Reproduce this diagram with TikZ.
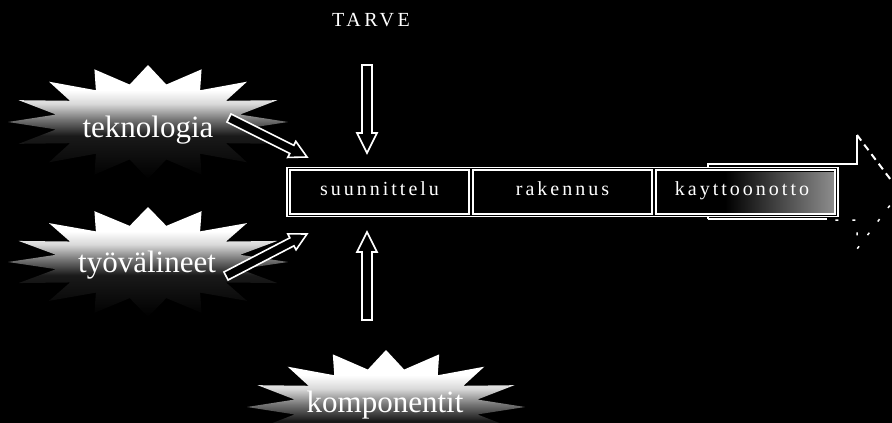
\documentclass[tikz,border=0pt]{standalone}
\usepackage{fontspec}
\setmainfont{Liberation Serif}
\newfontfamily\cellfont[LetterSpace=15]{Liberation Serif}
\newfontfamily\tarvefont[LetterSpace=18]{Liberation Serif}
\usetikzlibrary{calc}
\pgfdeclareverticalshading{burstshade}{100bp}{color(0bp)=(black); color(25bp)=(black); color(44bp)=(black!90); color(51bp)=(black!55); color(58bp)=(black!15); color(64bp)=(white); color(100bp)=(white)}
\newcommand\burstshape[4]{%
  \shade[shading=burstshade] plot[samples=33, domain=0:360, variable=\t]
    ({#1+#3*(1-0.33*mod(round(\t/11.25),2))*cos(\t)},
     {#2-#4*(1-0.33*mod(round(\t/11.25),2))*sin(\t)}) -- cycle;}
\newcommand\blockarrow[5]{%
  \path ($(#2)!#5!(#1)$) coordinate (hb);
  \draw[hollow] ($(#1)!#3!90:(#2)$) -- ($(hb)!#3!90:(#2)$) -- ($(hb)!#4!90:(#2)$)
    -- (#2) -- ($(hb)!#4!-90:(#2)$) -- ($(hb)!#3!-90:(#2)$) -- ($(#1)!#3!-90:(#2)$) -- cycle;}
\tikzset{
  hollow/.style={draw=white, fill=black, line width=1.6pt, line join=miter},
  frame/.style={draw=white, fill=black, line width=1.8pt, minimum width=551pt, minimum height=49pt, inner sep=0pt},
  cell/.style={draw=white, line width=1.3pt, minimum width=179pt, minimum height=44pt, inner sep=0pt},
  celltext/.style={text=white, font=\cellfont\fontsize{20}{22}\selectfont, anchor=base, inner sep=0pt},
  burstlabel/.style={text=white, font=\fontsize{31}{34}\selectfont, anchor=base, inner sep=0pt},
  bigarrow/.style={draw=white, line width=2pt}
}
\begin{document}
\begin{tikzpicture}[x=1pt, y=-1pt]
\fill[black] (0,0) rectangle (892,423);
\useasboundingbox (0,0) rectangle (892,423);

% starbursts
\burstshape{148}{122}{140}{57}
\burstshape{148}{262}{140}{55}
\burstshape{386}{407}{139}{57}

% big process arrow behind the box
\draw[bigarrow, line join=miter] (708,219) -- (708,164) -- (857,164) -- (857,135);
\draw[bigarrow, dash pattern=on 7pt off 5pt] (857,135) -- (900,192);
\draw[bigarrow, line width=1.5pt, dash pattern=on 3pt off 14pt] (900,192) -- (857,249) -- (857,220) -- (827,220);
\draw[bigarrow, line width=2.5pt] (827,219) -- (708,219);

% process box
\node[frame] (box) at (562.5,192) {};
\shade[left color=black, right color=black!45] (725,172) rectangle (834,212);
\node[cell] (c1) at (379.5,192) {};
\node[cell] (c2) at (562.5,192) {};
\node[cell] (c3) at (745.5,192) {};
\node[celltext] (c1t) at (379.5,195) {suunnittelu};
\node[celltext] (c2t) at (562.5,195) {rakennus};
\node[celltext] (c3t) at (742,195) {kayttoonotto};

% labels
\node[text=white, font=\tarvefont\fontsize{20}{22}\selectfont, inner sep=0pt] (tarve) at (371,20) {TARVE};
\node[burstlabel] (tek) at (148,137) {teknologia};
\node[burstlabel] (tyo) at (147,272) {työvälineet};
\node[burstlabel] (komp) at (385,412) {komponentit};

% hollow arrows
\coordinate (tarve-s) at (367,65);
\coordinate (tarve-t) at (367,153);
\coordinate (komp-s) at (367,320);
\coordinate (komp-t) at (367,232);
\coordinate (tek-s) at (229,118);
\coordinate (tek-t) at (307,157);
\coordinate (tyo-s) at (226,276);
\coordinate (tyo-t) at (307,234);
\blockarrow{tarve-s}{tarve-t}{5pt}{10pt}{20pt}
\blockarrow{komp-s}{komp-t}{5pt}{10pt}{20pt}
\blockarrow{tek-s}{tek-t}{4.5pt}{9pt}{17pt}
\blockarrow{tyo-s}{tyo-t}{4.5pt}{9pt}{17pt}
\end{tikzpicture}
\end{document}
